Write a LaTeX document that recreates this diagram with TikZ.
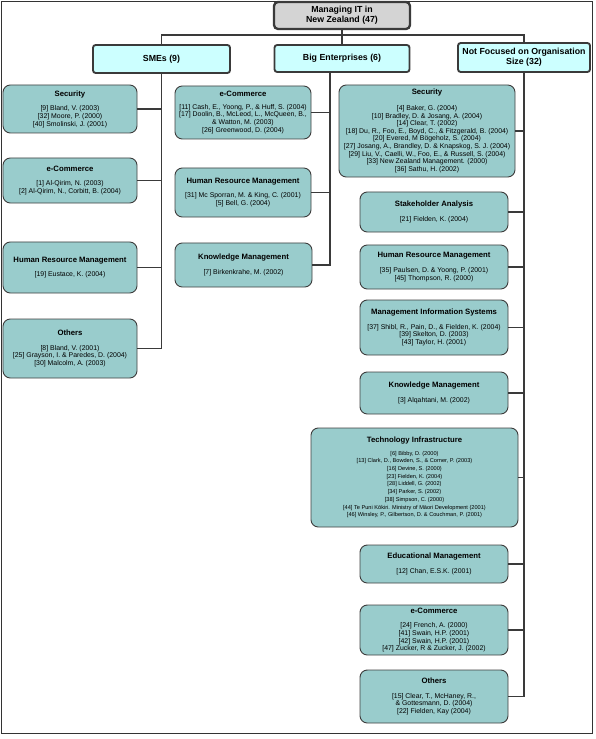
\documentclass[tikz,border=0pt]{standalone}
\usepackage{fontspec}
\setmainfont{Liberation Sans}
\definecolor{leafteal}{HTML}{99CCCC}
\definecolor{catcyan}{HTML}{CCFFFF}
\definecolor{rootgray}{HTML}{D4D4D4}
\definecolor{linegray}{HTML}{3A3A3A}
\newcommand{\boxtitle}[1]{{\fontsize{6.6}{7.5}\selectfont\bfseries #1}}
\newcommand{\refno}[1]{[#1] }
\begin{document}
\begin{tikzpicture}[x=0.03cm, y=-0.03cm,
  rootbox/.style={draw=linegray, line width=2pt, fill=rootgray, rounded corners=0.12cm, align=center,
    font=\fontsize{7.5}{8.5}\selectfont\bfseries, minimum width=4.08cm, minimum height=0.81cm, inner sep=1pt},
  catbox/.style={draw=linegray, line width=1.6pt, fill=catcyan, rounded corners=0.08cm, align=center,
    font=\fontsize{7.5}{8.8}\selectfont\bfseries, inner sep=1pt},
  leafbox/.style={draw=black!75, line width=0.8pt, fill=leafteal, rounded corners=0.22cm, align=center,
    font=\fontsize{5.9}{6.5}\selectfont, inner sep=1pt},
  link/.style={draw=linegray, line width=1.6pt}]
\useasboundingbox (0,0) rectangle (595,739);
\draw[black!80, line width=0.6pt] (1,1) rectangle (592,733);

\node[rootbox] (root) at (342,15.5) {Managing IT in\\New Zealand (47)};
\node[catbox, minimum width=4.11cm, minimum height=0.84cm] (sme) at (161.5,59) {SMEs (9)};
\node[catbox, minimum width=4.05cm, minimum height=0.81cm] (big) at (342,58.5) {Big Enterprises (6)};
\node[catbox, minimum width=3.96cm, minimum height=0.87cm] (nf) at (524,57.5) {Not Focused on Organisation\\Size (32)};

% SMEs
\node[leafbox, minimum width=4.02cm, minimum height=1.44cm] (smesec) at (70,109)
  {\boxtitle{Security}\\[6pt]\refno{9}Bland, V. (2003)\\\refno{32}Moore, P. (2000)\\\refno{40}Smolinski, J. (2001)};
\node[leafbox, minimum width=4.02cm, minimum height=1.35cm] (smeecom) at (70,180.5)
  {\boxtitle{e-Commerce}\\[6pt]\refno{1}Al-Qirim, N. (2003)\\\refno{2}Al-Qirim, N., Corbitt, B. (2004)};
\node[leafbox, minimum width=4.02cm, minimum height=1.53cm] (smehrm) at (70,267.5)
  {\boxtitle{Human Resource Management}\\[6pt]\refno{19}Eustace, K. (2004)};
\node[leafbox, minimum width=4.02cm, minimum height=1.77cm] (smeoth) at (70,348.5)
  {\boxtitle{Others}\\[6pt]\refno{8}Bland, V. (2001)\\\refno{25}Grayson, I. \& Paredes, D. (2004)\\\refno{30}Malcolm, A. (2003)};

% Big Enterprises
\node[leafbox, minimum width=4.08cm, minimum height=1.59cm] (bigecom) at (243,112.5)
  {\boxtitle{e-Commerce}\\[4pt]\refno{11}Cash, E., Yoong, P., \& Huff, S. (2004)\\\refno{17}Doolin, B., McLeod, L., McQueen, B.,\\\& Watton, M. (2003)\\\refno{26}Greenwood, D. (2004)};
\node[leafbox, minimum width=4.08cm, minimum height=1.47cm] (bighrm) at (243,192.5)
  {\boxtitle{Human Resource Management}\\[6pt]\refno{31}Mc Sporran, M. \& King, C. (2001)\\\refno{5}Bell, G. (2004)};
\node[leafbox, minimum width=4.11cm, minimum height=1.32cm] (bigkm) at (243.5,265)
  {\boxtitle{Knowledge Management}\\[6pt]\refno{7}Birkenkrahe, M. (2002)};

% Not focused on organisation size
\node[leafbox, minimum width=5.28cm, minimum height=2.76cm] (nfsec) at (427,131)
  {\boxtitle{Security}\\[7pt]\refno{4}Baker, G. (2004)\\\refno{10}Bradley, D. \& Josang, A. (2004)\\\refno{14}Clear, T. (2002)\\
   \refno{18}Du, R., Foo, E., Boyd, C., \& Fitzgerald, B. (2004)\\\refno{20}Evered, M Bögeholz, S. (2004)\\
   \refno{27}Josang, A., Brandley, D. \& Knapskog, S. J. (2004)\\\refno{29}Liu, V., Caelli, W., Foo, E., \& Russell, S. (2004)\\
   \refno{33}New Zealand Management. (2000)\\\refno{36}Sathu, H. (2002)};
\node[leafbox, minimum width=4.44cm, minimum height=1.2cm] (nfstake) at (434,212)
  {\boxtitle{Stakeholder Analysis}\\[6pt]\refno{21}Fielden, K. (2004)};
\node[leafbox, minimum width=4.44cm, minimum height=1.32cm] (nfhrm) at (434,267)
  {\boxtitle{Human Resource Management}\\[6pt]\refno{35}Paulsen, D. \& Yoong, P. (2001)\\\refno{45}Thompson, R. (2000)};
\node[leafbox, minimum width=4.44cm, minimum height=1.65cm] (nfmis) at (434,327.5)
  {\boxtitle{Management Information Systems}\\[6pt]\refno{37}Shibl, R., Pain, D., \& Fielden, K. (2004)\\\refno{39}Skelton, D. (2003)\\\refno{43}Taylor, H. (2001)};
\node[leafbox, minimum width=4.44cm, minimum height=1.26cm] (nfkm) at (434,393)
  {\boxtitle{Knowledge Management}\\[6pt]\refno{3}Alqahtani, M. (2002)};
\node[leafbox, minimum width=6.21cm, minimum height=2.97cm, font=\fontsize{4.8}{6.6}\selectfont] (nftech) at (414.5,477.5)
  {\boxtitle{Technology Infrastructure}\\[4pt]\refno{6}Bibby, D. (2000)\\\refno{13}Clark, D., Bowden, S., \& Corner, P. (2003)\\
   \refno{16}Devine, S. (2000)\\\refno{23}Fielden, K. (2004)\\\refno{28}Liddell, G. (2002)\\\refno{34}Parker, S. (2002)\\
   \refno{38}Simpson, C. (2000)\\\refno{44}Te Puni Kōkiri. Ministry of Māori Development (2001)\\
   \refno{46}Winsley, P., Gilbertson, D. \& Couchman, P. (2001)};
\node[leafbox, minimum width=4.44cm, minimum height=1.14cm] (nfedu) at (434,564)
  {\boxtitle{Educational Management}\\[6pt]\refno{12}Chan, E.S.K. (2001)};
\node[leafbox, minimum width=4.44cm, minimum height=1.5cm] (nfecom) at (434,630)
  {\boxtitle{e-Commerce}\\[6pt]\refno{24}French, A. (2000)\\\refno{41}Swain, H.P. (2001)\\\refno{42}Swain, H.P. (2001)\\\refno{47}Zucker, R \& Zucker, J. (2002)};
\node[leafbox, minimum width=4.44cm, minimum height=1.59cm] (nfoth) at (434,696.5)
  {\boxtitle{Others}\\[6pt]\refno{15}Clear, T., McHaney, R.,\\\& Gottesmann, D. (2004)\\\refno{22}Fielden, Kay (2004)};

% connectors
\coordinate (bar) at (0,35);
\coordinate (bigtrunk) at (330,0);
\draw[link] (root.south) -- (big.north);
\draw[link] (sme.north) -- (sme.north |- bar) -- (nf.north |- bar) -- (nf.north);
\draw[link] (sme.south) |- (smeoth.east);
\foreach \n in {smesec,smeecom,smehrm}
  \draw[link] (\n.east) -- (\n.east -| sme.south);
\draw[link] (big.south -| bigtrunk) |- (bigkm.east);
\foreach \n in {bigecom,bighrm}
  \draw[link] (\n.east) -- (\n.east -| bigtrunk);
\draw[link] (nf.south) |- (nfoth.east);
\foreach \n in {nfsec,nfstake,nfhrm,nfmis,nfkm,nftech,nfedu,nfecom}
  \draw[link] (\n.east) -- (\n.east -| nf.south);
\end{tikzpicture}
\end{document}
